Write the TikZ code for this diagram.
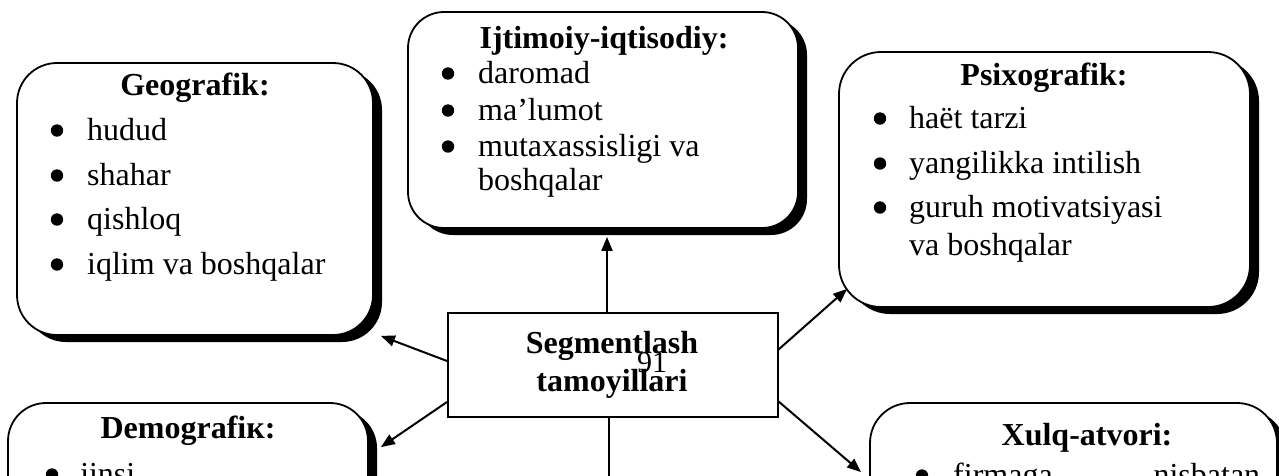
\documentclass[tikz,border=0pt]{standalone}
\usepackage{fontspec}
\setmainfont{Liberation Serif}
\usetikzlibrary{arrows.meta}

% rounded panel with a solid drop shadow: name, x1, y1, x2, y2, corner radius
\newcommand\panel[6]{%
  \fill[rounded corners=#6pt] ({#2+9},{#3+7}) rectangle ({#4+9},{#5+7});
  \node[panelbox, rounded corners=#6pt, minimum width={#4-#2}, minimum height={#5-#3}]
    (#1) at ({(#2+#4)/2},{(#3+#5)/2}) {};
}
% bulleted line: name, bullet x, text x, baseline, text
\newcommand\bitem[5]{%
  \fill ({#2},{#4-9.5}) circle (6.2pt);
  \node[txt, anchor=base west] (#1) at (#3,#4) {#5};
}

\begin{document}
\begin{tikzpicture}[x=1pt,y=-1pt,
  panelbox/.style={draw, line width=1.8pt, fill=white, inner sep=0pt},
  centerbox/.style={draw, line width=2pt, fill=white, inner sep=0pt},
  txt/.style={inner sep=0pt, font=\fontsize{32}{38}\selectfont},
  ttl/.style={inner sep=0pt, anchor=base, font=\fontsize{32}{38}\selectfont\bfseries},
  link/.style={line width=2pt, -{Triangle[length=14pt,width=11pt]}},
  plain/.style={line width=2pt}]
\useasboundingbox (0,0) rectangle (1279,475);
\clip (0,0) rectangle (1279,475);

% panels
\panel{geo}{17}{63}{373}{335}{40}
\panel{soc}{408}{12}{798}{228}{36}
\panel{psy}{839}{52}{1250}{307}{42}
\panel{dem}{8}{403}{368}{700}{38}
\panel{beh}{870}{403}{1277}{700}{40}

% central box
\node[centerbox, minimum width=330, minimum height=104] (seg) at (613,365) {};
\node[ttl] (segA) at (612,353) {Segmentlash};
\node[ttl] (segB) at (612,391) {tamoyillari};
\node[inner sep=0pt, anchor=base, font=\fontsize{30}{36}\selectfont] (pg) at (652,372) {91};

% Geografik
\node[ttl] (geoT) at (195,95) {Geografik:};
\bitem{geo1}{57}{87}{140}{hudud}
\bitem{geo2}{57}{87}{185}{shahar}
\bitem{geo3}{57}{87}{229}{qishloq}
\bitem{geo4}{57}{87}{274}{iqlim va boshqalar}

% Ijtimoiy-iqtisodiy
\node[ttl] (socT) at (604,48) {Ijtimoiy-iqtisodiy:};
\bitem{soc1}{448}{478}{83}{daromad}
\bitem{soc2}{448}{478}{120}{ma’lumot}
\bitem{soc3}{448}{478}{156}{mutaxassisligi va}
\node[txt, anchor=base west] (soc4) at (478,190) {boshqalar};

% Psixografik
\node[ttl] (psyT) at (1044,85) {Psixografik:};
\bitem{psy1}{880}{909}{128}{haët tarzi}
\bitem{psy2}{880}{909}{173}{yangilikka intilish}
\bitem{psy3}{880}{909}{217}{guruh motivatsiyasi}
\node[txt, anchor=base west] (psy4) at (909,255) {va boshqalar};

% Demografik
\node[ttl] (demT) at (188,438) {Demografiк:};
\bitem{dem1}{52}{80}{484}{jinsi}

% Xulq-atvori
\node[ttl] (behT) at (1087,445) {Xulq-atvori:};
\bitem{beh1}{922}{953}{485}{\makebox[307pt][l]{firmaga\hfill nisbatan}}

% connectors
\coordinate (down) at (609,480);
\draw[link] ([xshift=-6pt]seg.north) -- ([xshift=4pt,yshift=-8pt]soc.south);
\draw[link] ([yshift=-49pt]seg.north west) -- ([xshift=7pt]geo.south east);
\draw[link] ([yshift=-90pt]seg.north west) -- ([xshift=12pt,yshift=-45pt]dem.north east);
\draw[link] ([xshift=-1pt,yshift=-38pt]seg.north east) -- ([xshift=9pt,yshift=19pt]psy.south west);
\draw[link] ([xshift=-1pt,yshift=-89pt]seg.north east) -- ([xshift=-8pt,yshift=-70pt]beh.north west);
\draw[plain] ([xshift=-4pt]seg.south) -- (down);
\end{tikzpicture}
\end{document}
